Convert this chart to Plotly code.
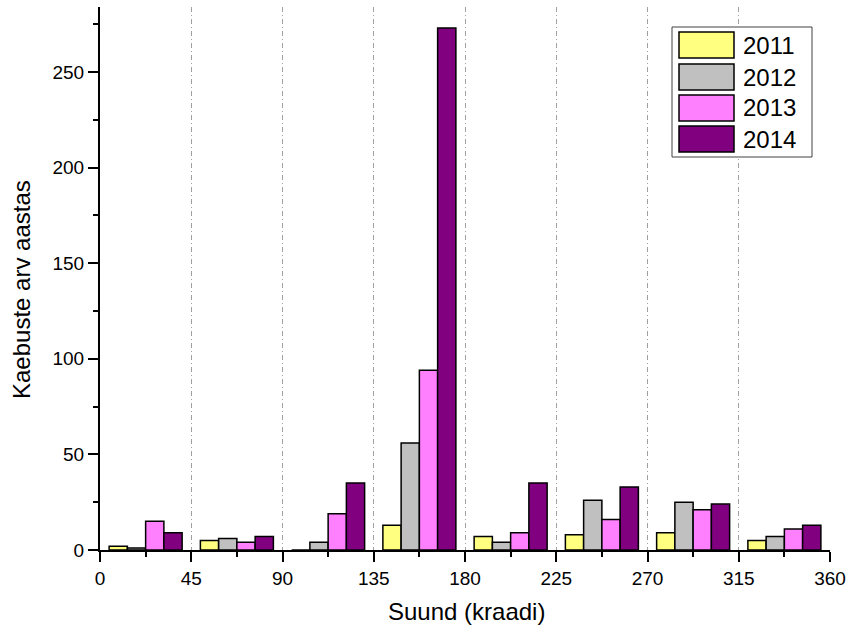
import plotly.graph_objects as go

# Data
bin_centers = [22.5, 67.5, 112.5, 157.5, 202.5, 247.5, 292.5, 337.5]
years = ["2011", "2012", "2013", "2014"]
v2011 = [2, 5, 0, 13, 7, 8, 9, 5]
v2012 = [1, 6, 4, 56, 4, 26, 25, 7]
v2013 = [15, 4, 19, 94, 9, 16, 21, 11]
v2014 = [9, 7, 35, 273, 35, 33, 24, 13]
series = [v2011, v2012, v2013, v2014]
colors = ["#FFFF80", "#C0C0C0", "#FF80FF", "#800080"]
x_ticks = [0, 45, 90, 135, 180, 225, 270, 315, 360]
y_ticks = [0, 50, 100, 150, 200, 250]

FONT = "Liberation Sans, Arial, sans-serif"

fig = go.Figure()
for name, vals, col in zip(years, series, colors):
    fig.add_trace(go.Bar(
        x=bin_centers, y=vals, name=name,
        marker=dict(color=col, line=dict(color="black", width=1.5)),
        showlegend=False,
    ))

fig.update_layout(
    width=850, height=634,
    margin=dict(l=100, r=20, t=7, b=84, autoexpand=False),
    paper_bgcolor="white", plot_bgcolor="white",
    barmode="group", bargap=0.2, bargroupgap=0,
    font=dict(family=FONT, size=19, color="black"),
    showlegend=False,
)

fig.update_xaxes(
    range=[0, 360], tickvals=x_ticks, ticktext=[str(t) for t in x_ticks],
    showline=True, linecolor="black", linewidth=2,
    ticks="outside", ticklen=10, tickwidth=2, tickcolor="black",
    minor=dict(tickvals=[22.5 + 45 * i for i in range(8)], ticks="outside",
               ticklen=5, tickwidth=2, tickcolor="black", showgrid=False),
    showgrid=True, gridcolor="#A0A0A0", gridwidth=1, griddash="5px,3px,1px,3px",
    zeroline=False, automargin=False,
    tickfont=dict(size=19),
)
fig.update_yaxes(
    range=[0, 284], tickvals=y_ticks,
    showline=True, linecolor="black", linewidth=2,
    ticks="outside", ticklen=10, tickwidth=2, tickcolor="black",
    minor=dict(tickvals=[25 + 50 * i for i in range(6)], ticks="outside",
               ticklen=5, tickwidth=2, tickcolor="black", showgrid=False),
    showgrid=False, zeroline=False, automargin=False,
    tickfont=dict(size=19),
)

# pixel -> paper helpers (plot area 100..830 x 7..550)
W, H = 730.0, 543.0
def px(xp):
    return (xp - 100) / W
def py(yp):
    return (550 - yp) / H

annotations = [
    dict(xref="paper", yref="paper", x=px(466), y=py(611), text="Suund (kraadi)",
         showarrow=False, xanchor="center", yanchor="middle",
         font=dict(size=24, family=FONT, color="black")),
    dict(xref="paper", yref="paper", x=px(21), y=py(290), text="Kaebuste arv aastas",
         showarrow=False, xanchor="center", yanchor="middle", textangle=-90,
         font=dict(size=24, family=FONT, color="black")),
]

# Manual legend
shapes = [dict(type="rect", xref="paper", yref="paper",
               x0=px(672), x1=px(812), y0=py(157), y1=py(27),
               fillcolor="white", line=dict(color="#404040", width=1), layer="above")]
rows = [(32, 58), (64, 90), (95, 121), (126, 152)]
for (top, bot), name, col in zip(rows, years, colors):
    shapes.append(dict(type="rect", xref="paper", yref="paper",
                       x0=px(679), x1=px(734), y0=py(bot), y1=py(top),
                       fillcolor=col, line=dict(color="black", width=1.5), layer="above"))
    annotations.append(dict(xref="paper", yref="paper", x=px(741), y=py((top + bot) / 2),
                            text=name, showarrow=False, xanchor="left", yanchor="middle",
                            font=dict(size=24, family=FONT, color="black")))
fig.update_layout(shapes=shapes, annotations=annotations)

fig.write_html("out.html",
               config={"displayModeBar": False},
               post_script="document.body.style.margin='0px';document.body.style.overflow='hidden';")
